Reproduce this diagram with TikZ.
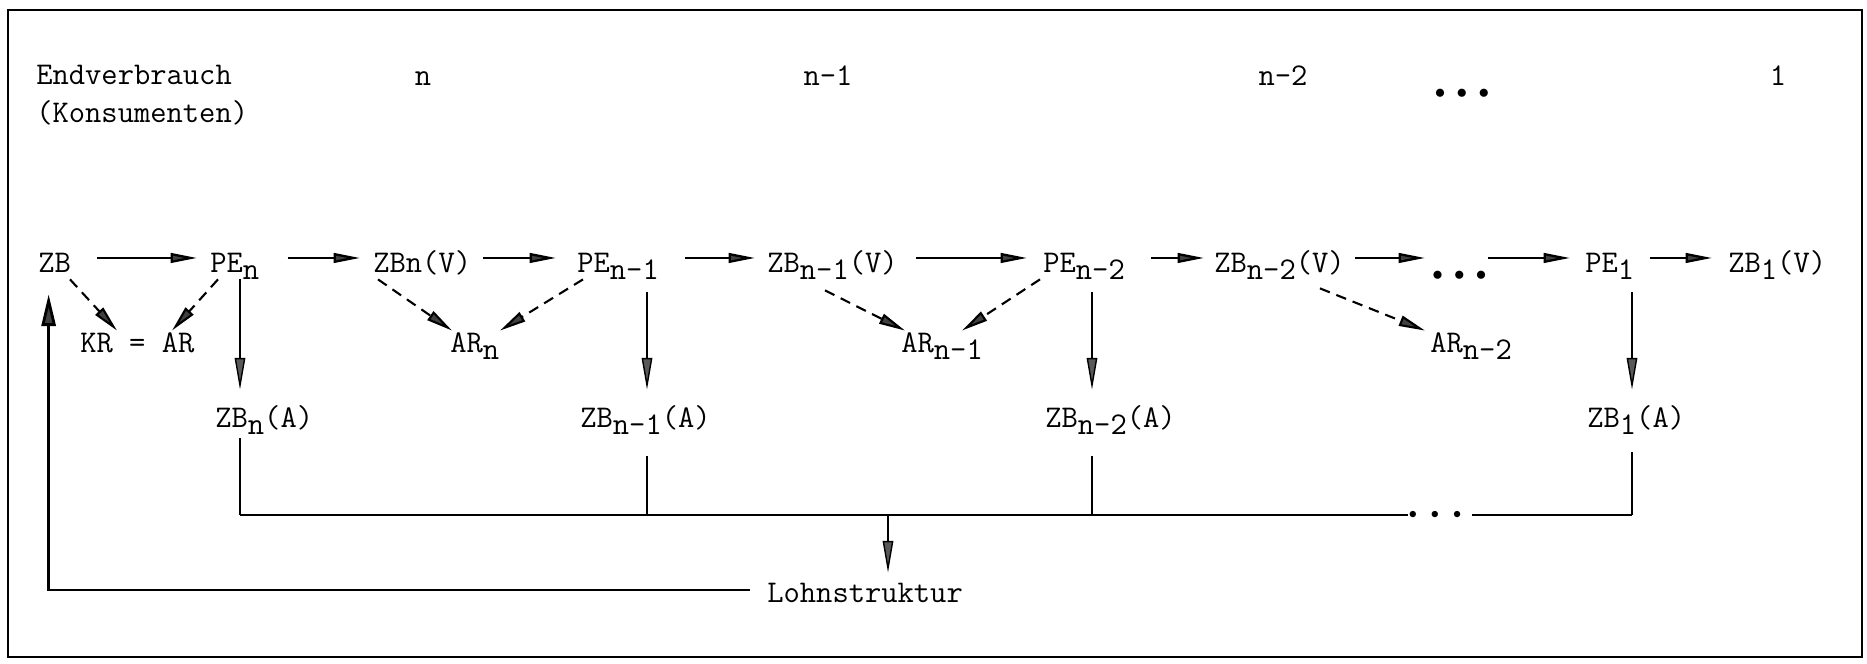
\documentclass[tikz,border=0pt]{standalone}
\usepackage{graphicx}
\usetikzlibrary{arrows.meta}
\newcommand{\lowsub}[1]{\raisebox{-0.25em}{#1}}
\newcommand{\rowdots}{$\scriptstyle\bullet$\hspace{6.4pt}$\scriptstyle\bullet$\hspace{6.4pt}$\scriptstyle\bullet$}
\newcommand{\busdots}{$\scriptscriptstyle\bullet$\hspace{8pt}$\scriptscriptstyle\bullet$\hspace{8pt}$\scriptscriptstyle\bullet$}
\begin{document}
\begin{tikzpicture}[x=0.02cm,y=-0.02cm,
  lbl/.style={font=\ttfamily\fontsize{18}{21.5}\selectfont, inner sep=0pt},
  rownode/.style={lbl, text height=12pt, text depth=4pt, anchor=base west},
  harrow/.style={line width=1.3pt, -{Triangle[length=15pt,width=5.5pt,fill=black!75]}},
  hz/.style 2 args={harrow, shorten <=#1cm, shorten >=#2cm},
  darrow/.style={line width=1.2pt, dash pattern=on 6pt off 4pt, -{Triangle[length=15pt,width=6pt,fill=black!75]}},
  varrow/.style={line width=0.8pt, -{Triangle[length=18pt,width=6pt,fill=black!65]}},
  fbarrow/.style={line width=1.6pt, -{Triangle[length=18pt,width=8pt,fill=black!75]}},
  busline/.style={line width=1.6pt},
  drop/.style={line width=0.9pt},
  frame/.style={line width=1pt}
]
\useasboundingbox (0,0) rectangle (1867,663);
\draw[frame] (8,10) rectangle (1862,657);

% header
\node[lbl, anchor=north west, align=left] (endv) at (36,65) {Endverbrauch\\(Konsumenten)};
\node[lbl, anchor=base] (hn) at (423,85) {n};
\node[lbl, anchor=base] (hn1) at (828,85) {n-1};
\node[lbl, anchor=base] (hn2) at (1283,85) {n-2};
\node[lbl, anchor=base] (hdots) at (1462,85) {\raisebox{-7.7pt}{\rowdots}};
\node[lbl, anchor=base] (h1) at (1778,85) {1};

% row 1
\node[rownode] (ZB) at (38,272) {ZB};
\node[rownode] (PEn) at (210,272) {PE\lowsub{n}};
\node[rownode] (ZBnV) at (373,272) {ZBn(V)};
\node[rownode] (PEn1) at (577,272) {PE\lowsub{n-1}};
\node[rownode] (ZBn1V) at (767,272) {ZB\lowsub{n-1}(V)};
\node[rownode] (PEn2) at (1043,272) {PE\lowsub{n-2}};
\node[rownode] (ZBn2V) at (1214,272) {ZB\lowsub{n-2}(V)};
\node[rownode] (dots) at (1432,272) {\raisebox{-4.9pt}{\rowdots}};
\node[rownode] (PE1) at (1585,272) {PE\lowsub{1}};
\node[rownode] (ZB1V) at (1728,272) {ZB\lowsub{1}(V)};

% row 2
\node[rownode] (KR) at (80,352) {KR = AR};
\node[rownode] (ARn) at (450,352) {AR\lowsub{n}};
\node[rownode] (ARn1) at (901,352) {AR\lowsub{n-1}};
\node[rownode] (ARn2) at (1430,352) {AR\lowsub{n-2}};

% row 3
\node[rownode] (ZBnA) at (215,427) {ZB\lowsub{n}(A)};
\node[rownode] (ZBn1A) at (580,427) {ZB\lowsub{n-1}(A)};
\node[rownode] (ZBn2A) at (1045,427) {ZB\lowsub{n-2}(A)};
\node[rownode] (ZB1A) at (1587,427) {ZB\lowsub{1}(A)};

\node[rownode] (Lohn) at (767,602) {Lohnstruktur};

% helper coordinates
\coordinate (cn) at (240,0);
\coordinate (cn1) at (647,0);
\coordinate (cn2) at (1092,0);
\coordinate (c1) at (1632,0);
\coordinate (bus) at (0,515);
\coordinate (gapL) at (1408,515);
\coordinate (gapR) at (1472,515);
\coordinate (busmid) at (888,515);
\node[lbl, anchor=center] (busdots) at (1435,515) {\busdots};

% horizontal arrows
\draw[hz={0.52}{0.26}] ([yshift=0.14cm]ZB.east) -- ([yshift=0.14cm]PEn.west);
\draw[hz={0.56}{0.26}] ([yshift=0.14cm]PEn.east) -- ([yshift=0.14cm]ZBnV.west);
\draw[hz={0.24}{0.42}] ([yshift=0.14cm]ZBnV.east) -- ([yshift=0.14cm]PEn1.west);
\draw[hz={0.52}{0.24}] ([yshift=0.14cm]PEn1.east) -- ([yshift=0.14cm]ZBn1V.west);
\draw[hz={0.36}{0.32}] ([yshift=0.14cm]ZBn1V.east) -- ([yshift=0.14cm]PEn2.west);
\draw[hz={0.52}{0.2}] ([yshift=0.14cm]PEn2.east) -- ([yshift=0.14cm]ZBn2V.west);
\draw[hz={0.2}{0.14}] ([yshift=0.14cm]ZBn2V.east) -- ([yshift=0.14cm]dots.west);
\draw[hz={0.02}{0.3}] ([yshift=0.14cm]dots.east) -- ([yshift=0.14cm]PE1.west);
\draw[hz={0.3}{0.32}] ([yshift=0.14cm]PE1.east) -- ([yshift=0.14cm]ZB1V.west);

% dashed arrows
\draw[darrow] ([xshift=0.64cm]ZB.south west) -- ([xshift=0.74cm]KR.north west);
\draw[darrow] ([xshift=0.16cm]PEn.south west) -- ([xshift=1.84cm]KR.north west);
\draw[darrow] ([xshift=0.1cm]ZBnV.south west) -- ([xshift=0.04cm]ARn.north west);
\draw[darrow] ([xshift=0.12cm]PEn1.south west) -- ([xshift=1.0cm]ARn.north west);
\draw[darrow] ([xshift=1.16cm,yshift=-0.22cm]ZBn1V.south west) -- ([xshift=0.08cm]ARn1.north west);
\draw[darrow] ([xshift=-0.06cm]PEn2.south west) -- ([xshift=1.22cm]ARn1.north west);
\draw[darrow] ([xshift=2.12cm,yshift=-0.18cm]ZBn2V.south west) -- ([xshift=-0.1cm]ARn2.north west);

% vertical arrows
\draw[varrow, shorten >=0.32cm] (PEn.south -| cn) -- (ZBnA.north -| cn);
\draw[varrow, shorten <=0.26cm, shorten >=0.32cm] (PEn1.south -| cn1) -- (ZBn1A.north -| cn1);
\draw[varrow, shorten <=0.26cm, shorten >=0.32cm] (PEn2.south -| cn2) -- (ZBn2A.north -| cn2);
\draw[varrow, shorten <=0.26cm, shorten >=0.32cm] (PE1.south -| c1) -- (ZB1A.north -| c1);

% collecting lines
\draw[drop, shorten <=0.08cm] (ZBnA.south -| cn) -- (cn |- bus);
\draw[drop, shorten <=0.44cm] (ZBn1A.south -| cn1) -- (cn1 |- bus);
\draw[drop, shorten <=0.44cm] (ZBn2A.south -| cn2) -- (cn2 |- bus);
\draw[busline, shorten <=0.36cm] (ZB1A.south -| c1) -- (c1 |- bus);
\draw[busline] (cn |- bus) -- (gapL);
\draw[busline] (gapR) -- (c1 |- bus);

% to wage structure and feedback
\draw[varrow, shorten >=0.16cm] (busmid) -- (Lohn.north -| busmid);
\draw[fbarrow, shorten <=0.34cm] ([yshift=0.1cm]Lohn.west) -| ([xshift=-0.12cm,yshift=-0.3cm]ZB.south);
\end{tikzpicture}
\end{document}
